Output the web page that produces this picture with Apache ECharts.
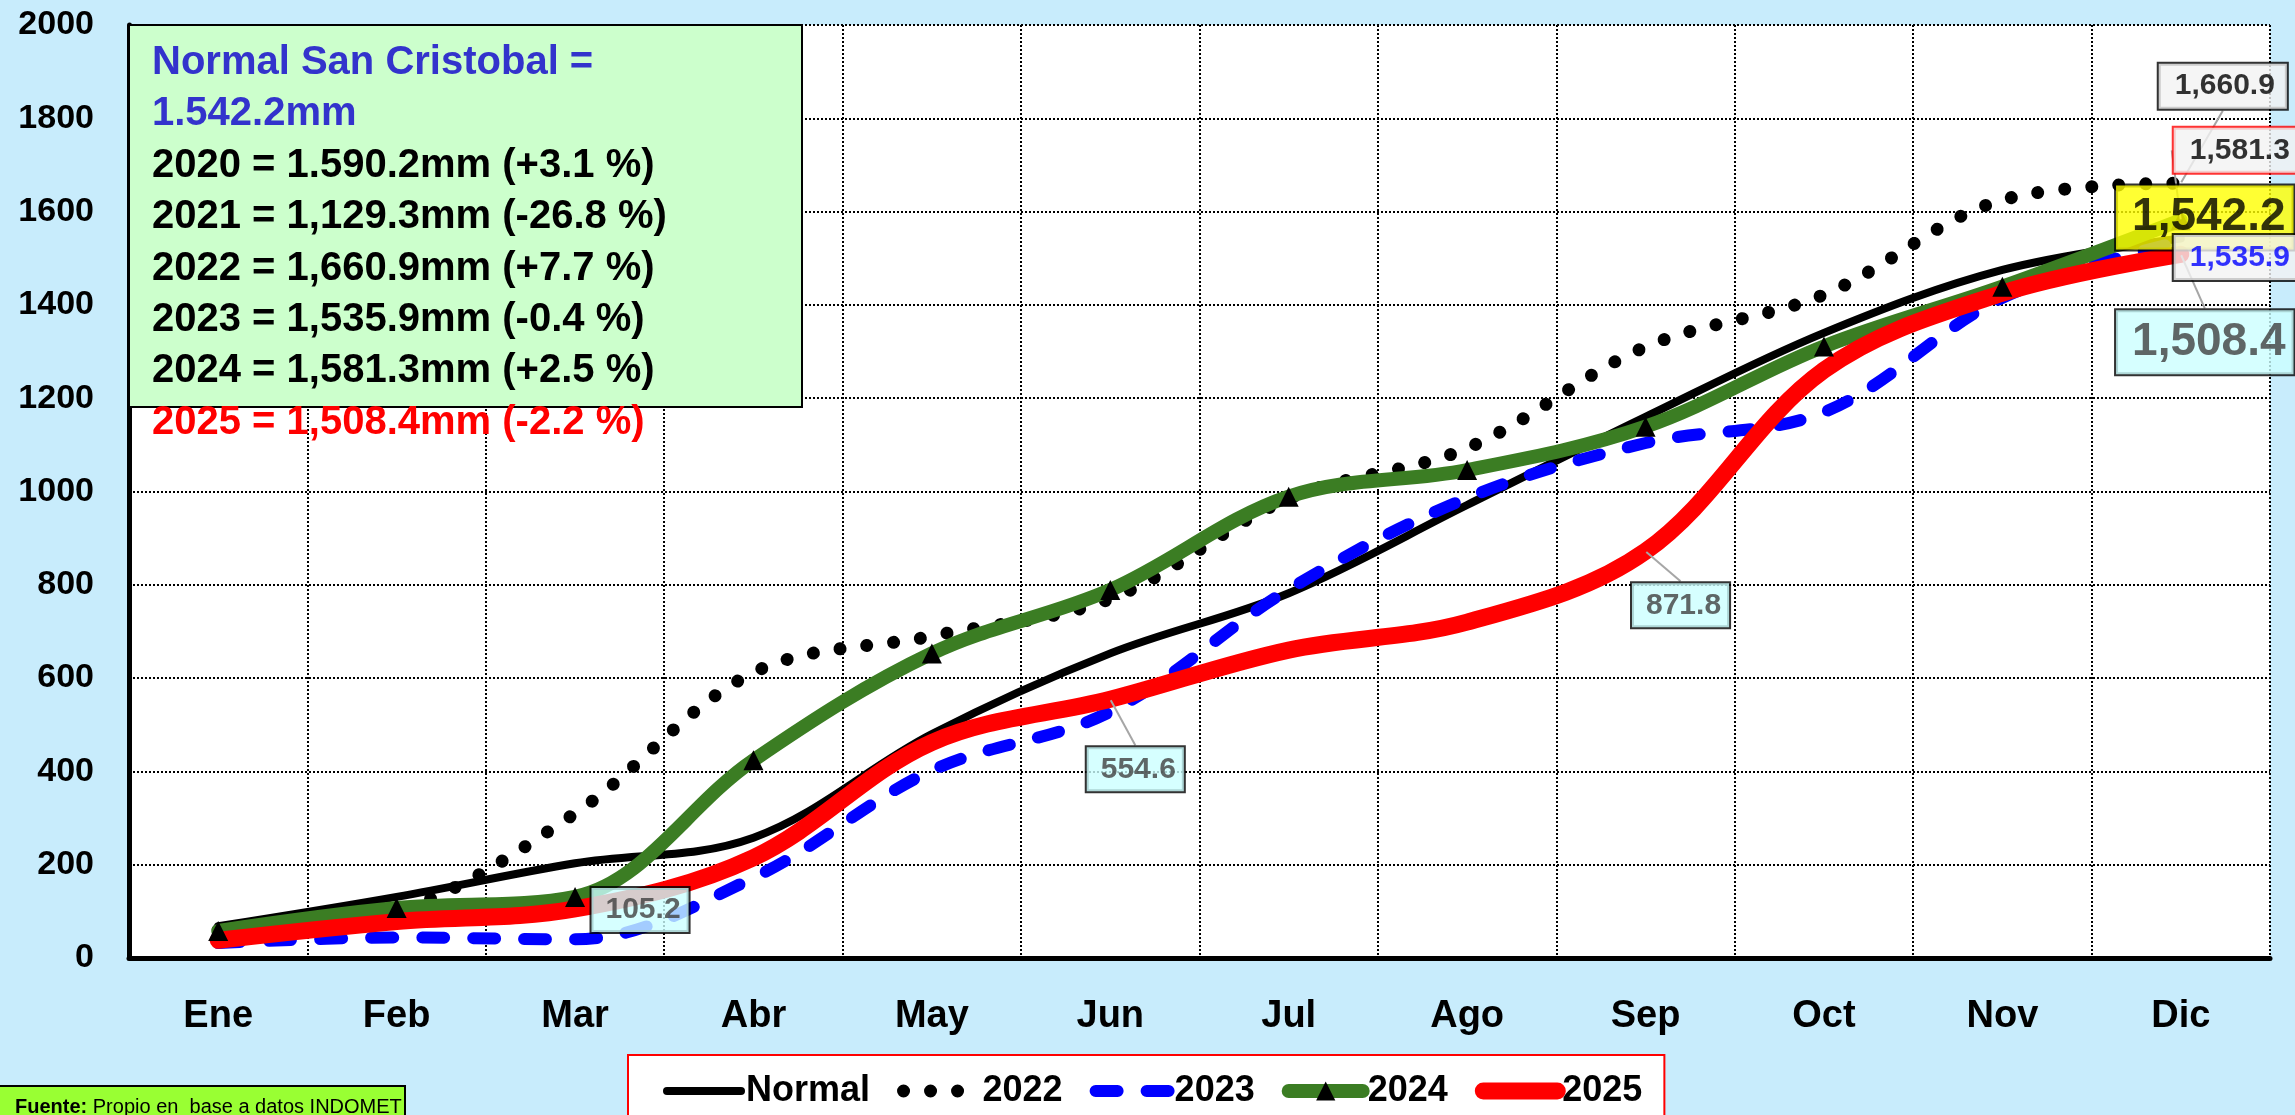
<!DOCTYPE html>
<html>
<head>
<meta charset="utf-8">
<script src="https://cdn.jsdelivr.net/npm/echarts@6/dist/echarts.min.js"></script>
<style>
html,body{margin:0;padding:0;background:#C8ECFC;}
#chart{width:2295px;height:1115px;}
</style>
</head>
<body>
<div id="chart"></div>
<script>
// ---- data ----
const months = ['Ene','Feb','Mar','Abr','May','Jun','Jul','Ago','Sep','Oct','Nov','Dic'];
const normal = [68, 131, 203, 258, 480, 653, 782, 971, 1160, 1340, 1475, 1542.2];
const y2022  = [60, 100, 310, 612, 690, 770, 985, 1093, 1310, 1422, 1625, 1660.9];
const y2023  = [32, 44, 40, 172, 402, 528, 790, 986, 1104, 1170, 1415, 1535.9];
const y2024  = [58, 107, 131, 424, 653, 789, 989, 1046, 1139, 1311, 1439, 1581.3];
const y2025  = [38, 78, 105.2, 215, 462, 554.6, 660, 720, 871.8, 1260, 1425, 1508.4];
const yMin = 0, yMax = 2000, yStep = 200;
const seriesNames = ['Normal', '2022', '2023', '2024', '2025'];
const summaryLines = [
  'Normal San Cristobal =',
  '1.542.2mm',
  '2020 = 1.590.2mm (+3.1 %)',
  '2021 = 1,129.3mm (-26.8 %)',
  '2022 = 1,660.9mm (+7.7 %)',
  '2023 = 1,535.9mm (-0.4 %)',
  '2024 = 1,581.3mm (+2.5 %)',
  '2025 = 1,508.4mm (-2.2 %)'
];
const sourceBold = 'Fuente:';
const sourceText = ' Propio en  base a datos INDOMET';

// ---- styles ----
const FONT = '"Liberation Sans", Arial, Helvetica, sans-serif';
const summaryColors = ['#3333CC','#3333CC','#000','#000','#000','#000','#000','#FF0000'];

const lineStyles = {
  'Normal': {color: '#000000', width: 8, cap: 'round', type: 'solid'},
  '2022':   {color: '#000000', width: 13, cap: 'round', type: [0.01, 27]},
  '2023':   {color: '#0000FF', width: 12, cap: 'round', type: [22, 29]},
  '2024':   {color: '#3B7D23', width: 14, cap: 'round', type: 'solid'},
  '2025':   {color: '#FF0000', width: 17, cap: 'round', type: 'solid'}
};

// labels: which series / month gets a value box, and how it looks
const labelSpecs = [
  {arr: y2025, idx: 2,  dx: 65, dy: 1,   bg: '#CCFFFF', border: '#000', color: '#404040', size: 30, pad: [8, 8, 6, 14], line: false},
  {arr: y2025, idx: 5,  dx: 25, dy: 70,  bg: '#CCFFFF', border: '#000', color: '#404040', size: 30, pad: [8, 8, 6, 14], line: true},
  {arr: y2025, idx: 8,  dx: 35, dy: 54,  bg: '#CCFFFF', border: '#000', color: '#404040', size: 30, pad: [8, 8, 6, 14], line: true},
  {arr: normal, idx: 11, dx: 24, dy: -21, bg: '#FFFF00', border: '#000', color: '#000', size: 46, pad: [10, 8, 8, 16], line: false},
  {arr: y2022, idx: 11, dx: 42, dy: -97, bg: '#F2F2F2', border: '#000', color: '#000', size: 30, pad: [8, 12, 7, 16], line: true},
  {arr: y2023, idx: 11, dx: 58, dy: 16,  bg: '#F2F2F2', border: '#000', color: '#0000FF', size: 30, pad: [8, 14, 7, 16], line: false},
  {arr: y2024, idx: 11, dx: 58, dy: -70, bg: '#F2F2F2', border: '#FF0000', color: '#000', size: 30, pad: [8, 14, 7, 16], line: true},
  {arr: y2025, idx: 11, dx: 24, dy: 88,  bg: '#CCFFFF', border: '#000', color: '#404040', size: 46, pad: [10, 8, 8, 16], line: true}
];

function fmt(v) {
  return v.toLocaleString('en-US', {minimumFractionDigits: 1, maximumFractionDigits: 1});
}

const chart = echarts.init(document.getElementById('chart'), null, {renderer: 'canvas'});

const smoothVal = 0.35;
const transparent = 'rgba(0,0,0,0)';

const graphics = [
  {type: 'rect', shape: {x: 129, y: 25, width: 673, height: 382},
   style: {fill: '#CCFFCC', stroke: '#000', lineWidth: 2}, z: 100},
  {type: 'rect', shape: {x: -3, y: 1086, width: 408, height: 40},
   style: {fill: '#99FF33', stroke: '#000', lineWidth: 2}, z: 100},
  {type: 'text', x: 15, y: 1107, z: 101,
   style: {text: '{b|' + sourceBold + '}{r|' + sourceText + '}', verticalAlign: 'middle',
     rich: {b: {font: 'bold 20px ' + FONT, fill: '#000'}, r: {font: '20px ' + FONT, fill: '#000'}}}}
];
summaryLines.forEach((t, i) => {
  graphics.push({type: 'text', x: 152, y: 63 + i * 51.4, z: 101,
    style: {text: t, font: 'bold 40px ' + FONT, fill: summaryColors[i], verticalAlign: 'middle'}});
});

const labelData = labelSpecs.map(s => ({
  value: [s.idx, s.arr[s.idx]],
  label: {
    show: true, position: 'inside',
    formatter: p => fmt(p.value[1]),
    fontFamily: FONT, fontWeight: 'bold', fontSize: s.size, color: s.color,
    backgroundColor: s.bg, borderColor: s.border, borderWidth: 2, padding: s.pad
  },
  labelLine: {show: s.line, lineStyle: {color: '#A6A6A6', width: 2}}
}));

const seriesData = {'Normal': normal, '2022': y2022, '2023': y2023, '2024': y2024, '2025': y2025};

const lineSeries = seriesNames.map(name => {
  const isTri = name === '2024';
  return {
    name: name, type: 'line', data: seriesData[name], smooth: smoothVal,
    symbol: isTri ? 'triangle' : 'none', symbolSize: isTri ? [20, 20] : 0,
    showSymbol: isTri,
    itemStyle: {color: isTri ? '#000' : transparent},
    lineStyle: lineStyles[name]
  };
});

const option = {
  animation: false,
  backgroundColor: '#C8ECFC',
  grid: {left: 129, right: 25, top: 25, bottom: 157, show: true, backgroundColor: '#FFFFFF',
         borderWidth: 0, containLabel: false, outerBoundsMode: 'none'},
  legend: {
    data: seriesNames.map(n => ({name: n, lineStyle: lineStyles[n]})),
    left: 628, top: 1055, orient: 'horizontal',
    padding: [18, 22, 40, 35], itemWidth: 74, itemHeight: 24, itemGap: 27,
    backgroundColor: '#FFFFFF', borderColor: '#FF0000', borderWidth: 2, borderRadius: 0,
    textStyle: {fontSize: 36, fontWeight: 'bold', color: '#000', fontFamily: FONT}
  },
  xAxis: {
    type: 'category', data: months, boundaryGap: true,
    axisLine: {show: true, lineStyle: {color: '#000', width: 5}},
    axisTick: {show: false},
    axisLabel: {interval: 0, fontSize: 38, fontWeight: 'bold', color: '#000', fontFamily: FONT, margin: 40},
    splitLine: {show: true, interval: 0, lineStyle: {color: '#000', type: [2, 2], width: 2}}
  },
  yAxis: {
    type: 'value', min: yMin, max: yMax, interval: yStep,
    axisLine: {show: true, lineStyle: {color: '#000', width: 5}},
    axisTick: {show: false},
    axisLabel: {fontSize: 34, fontWeight: 'bold', color: '#000', fontFamily: FONT, margin: 35,
                formatter: v => String(v)},
    splitLine: {show: true, lineStyle: {color: '#000', type: [2, 2], width: 2}}
  },
  graphic: graphics,
  series: lineSeries.concat([
    {name: 'labels', type: 'scatter', data: labelData, symbol: 'circle', symbolSize: 2,
     itemStyle: {color: transparent}, z: 10, silent: true,
     labelLayout: function (p) { const s = labelSpecs[p.dataIndex]; return {dx: s.dx, dy: s.dy}; }}
  ])
};
chart.setOption(option);
</script>
</body>
</html>
